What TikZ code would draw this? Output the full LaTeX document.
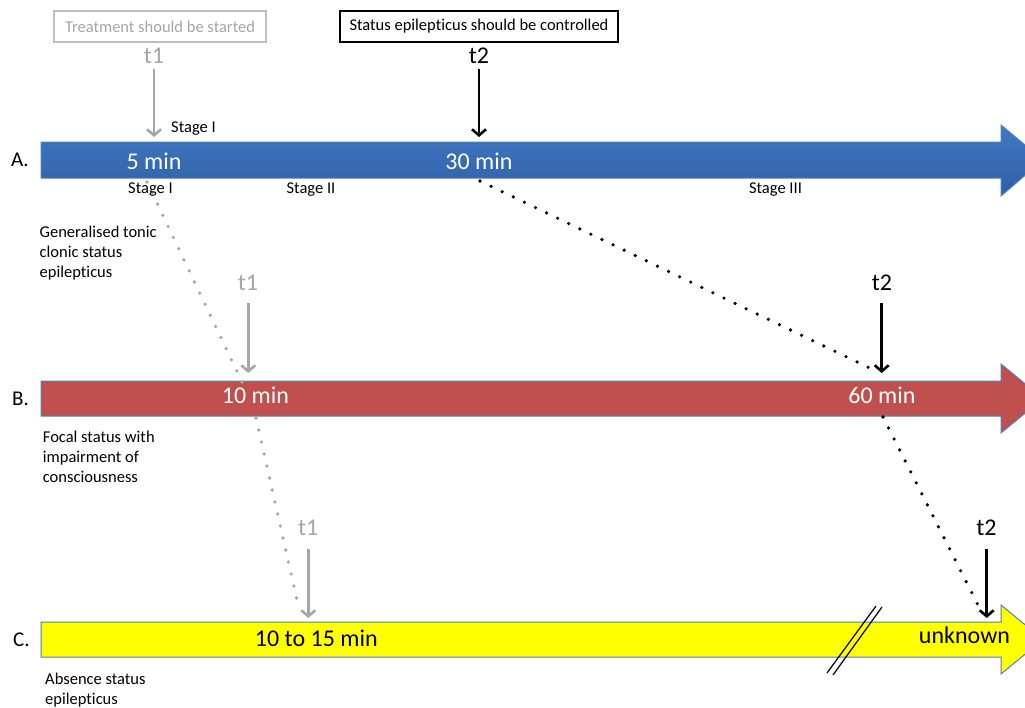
\documentclass[tikz,border=0pt]{standalone}
\usepackage{fontspec}
\setmainfont{Carlito}[Ligatures=NoCommon]
\usetikzlibrary{arrows.meta}
\definecolor{gtext}{RGB}{166,166,166}
\definecolor{gbox}{RGB}{191,191,191}
\definecolor{barline}{RGB}{79,129,189}
\definecolor{bluetop}{RGB}{64,121,196}
\definecolor{bluebot}{RGB}{46,95,163}
\definecolor{redbar}{RGB}{192,80,77}
\definecolor{yelbar}{RGB}{255,255,0}
\tikzset{
  smalltxt/.style={font=\fontsize{16.5}{20}\selectfont, inner sep=0pt},
  bigtxt/.style={font=\fontsize{24}{29}\selectfont, inner sep=0pt},
  rowlbl/.style={font=\fontsize{21}{25}\selectfont, inner sep=0pt, anchor=base west},
  lefttxt/.style={smalltxt, align=left, anchor=base west},
  headbox/.style={smalltxt, draw, line width=1.2pt, minimum height=31pt, inner sep=0pt},
  garrow/.style={draw=gtext, line width=2.6pt, -{Straight Barb[length=6pt,width=14pt,line width=2.6pt]}},
  karrow/.style={draw=black, line width=2.6pt, -{Straight Barb[length=6pt,width=14pt,line width=2.6pt]}},
  gdots/.style={draw=gtext, line width=3.6pt, line cap=round, dash pattern=on 0pt off 12.3pt},
  kdots/.style={draw=black, line width=3.6pt, line cap=round, dash pattern=on 0pt off 12.3pt},
  barborder/.style={draw=barline, line width=1pt},
  breakline/.style={draw=black, line width=1.2pt}
}
\begin{document}
\begin{tikzpicture}[x=1pt,y=-1pt]
\useasboundingbox (0,0) rectangle (1025,707);
\fill[white] (0,0) rectangle (1025,707);
\begin{scope}
\clip (0,0) rectangle (1025,707);
% bars
\path[barborder, top color=bluetop, bottom color=bluebot]
  (41,142) -- (1001,142) -- (1001,125) -- (1043,160) -- (1001,196) -- (1001,178) -- (41,178) -- cycle;
\path[barborder, fill=redbar]
  (41,381) -- (1001,381) -- (1001,364) -- (1043,398.5) -- (1001,433) -- (1001,416) -- (41,416) -- cycle;
\path[barborder, fill=yelbar]
  (41,622) -- (1001,622) -- (1001,605) -- (1043,639.5) -- (1001,674) -- (1001,657) -- (41,657) -- cycle;
\end{scope}

% break marks
\coordinate (brA1) at (827,673); \coordinate (brA2) at (876,606);
\coordinate (brB1) at (833,675); \coordinate (brB2) at (882,607);
\draw[breakline] (brA1) -- (brA2);
\draw[breakline] (brB1) -- (brB2);

% dotted connectors
\coordinate (gd1s) at (147,182); \coordinate (gd1e) at (242,382);
\coordinate (gd2s) at (256,418); \coordinate (gd2e) at (299,609);
\coordinate (kd1s) at (480,181); \coordinate (kd1e) at (878,372);
\coordinate (kd2s) at (883,417); \coordinate (kd2e) at (982,613);
\draw[gdots] (gd1s) -- (gd1e);
\draw[gdots] (gd2s) -- (gd2e);
\draw[kdots] (kd1s) -- (kd1e);
\draw[kdots] (kd2s) -- (kd2e);

% header boxes
\node[headbox, draw=gbox, text=gtext, minimum width=212pt] (hb1) at (160,26.5) {Treatment should be started};
\node[headbox, minimum width=278pt] (hb2) at (479,26.5) {Status epilepticus should be controlled};

% t labels
\node[bigtxt, text=gtext, anchor=base] (t1a) at (154,63.5) {t1};
\node[bigtxt, anchor=base] (t2a) at (479,63.5) {t2};
\node[bigtxt, text=gtext, anchor=base] (t1b) at (248,290.7) {t1};
\node[bigtxt, anchor=base] (t2b) at (882,290.7) {t2};
\node[bigtxt, text=gtext, anchor=base] (t1c) at (308.3,535.7) {t1};
\node[bigtxt, anchor=base] (t2c) at (986.5,535.7) {t2};

% vertical arrows
\coordinate (t1as) at (154,69);    \coordinate (t1ae) at (154,137);
\coordinate (t2as) at (479,69);    \coordinate (t2ae) at (479,137);
\coordinate (t1bs) at (248.3,303); \coordinate (t1be) at (248.3,373);
\coordinate (t2bs) at (881.7,303); \coordinate (t2be) at (881.7,373);
\coordinate (t1cs) at (308.3,549); \coordinate (t1ce) at (308.3,618);
\coordinate (t2cs) at (986.7,549); \coordinate (t2ce) at (986.7,618);
\draw[garrow] (t1as) -- (t1ae);
\draw[karrow] (t2as) -- (t2ae);
\draw[garrow] (t1bs) -- (t1be);
\draw[karrow] (t2bs) -- (t2be);
\draw[garrow] (t1cs) -- (t1ce);
\draw[karrow] (t2cs) -- (t2ce);

% bar texts
\node[smalltxt, anchor=base west] (stI) at (171,132) {Stage I};
\node[rowlbl] (lA) at (11,166.7) {A.};
\node[bigtxt, text=white, anchor=base] (m5) at (154,169) {5 min};
\node[bigtxt, text=white, anchor=base] (m30) at (479,169) {30 min};
\node[smalltxt, anchor=base] (s1) at (150.5,193) {Stage I};
\node[smalltxt, anchor=base] (s2) at (311,193) {Stage II};
\node[smalltxt, anchor=base] (s3) at (775.5,193) {Stage III};
\node[lefttxt] (dA) at (39.5,277) {Generalised tonic\\clonic status\\epilepticus};

\node[rowlbl] (lB) at (12,405) {B.};
\node[bigtxt, text=white, anchor=base] (m10) at (255.5,403.3) {10 min};
\node[bigtxt, text=white, anchor=base] (m60) at (882,403.3) {60 min};
\node[lefttxt] (dB) at (42.7,482.7) {Focal status with\\impairment of\\consciousness};

\node[rowlbl] (lC) at (13,646) {C.};
\node[bigtxt, anchor=base] (m1015) at (316.3,646.7) {10 to 15 min};
\node[bigtxt, anchor=base] (unk) at (964.5,643.3) {unknown};
\node[lefttxt] (dC) at (45,704) {Absence status\\epilepticus};
\end{tikzpicture}
\end{document}
